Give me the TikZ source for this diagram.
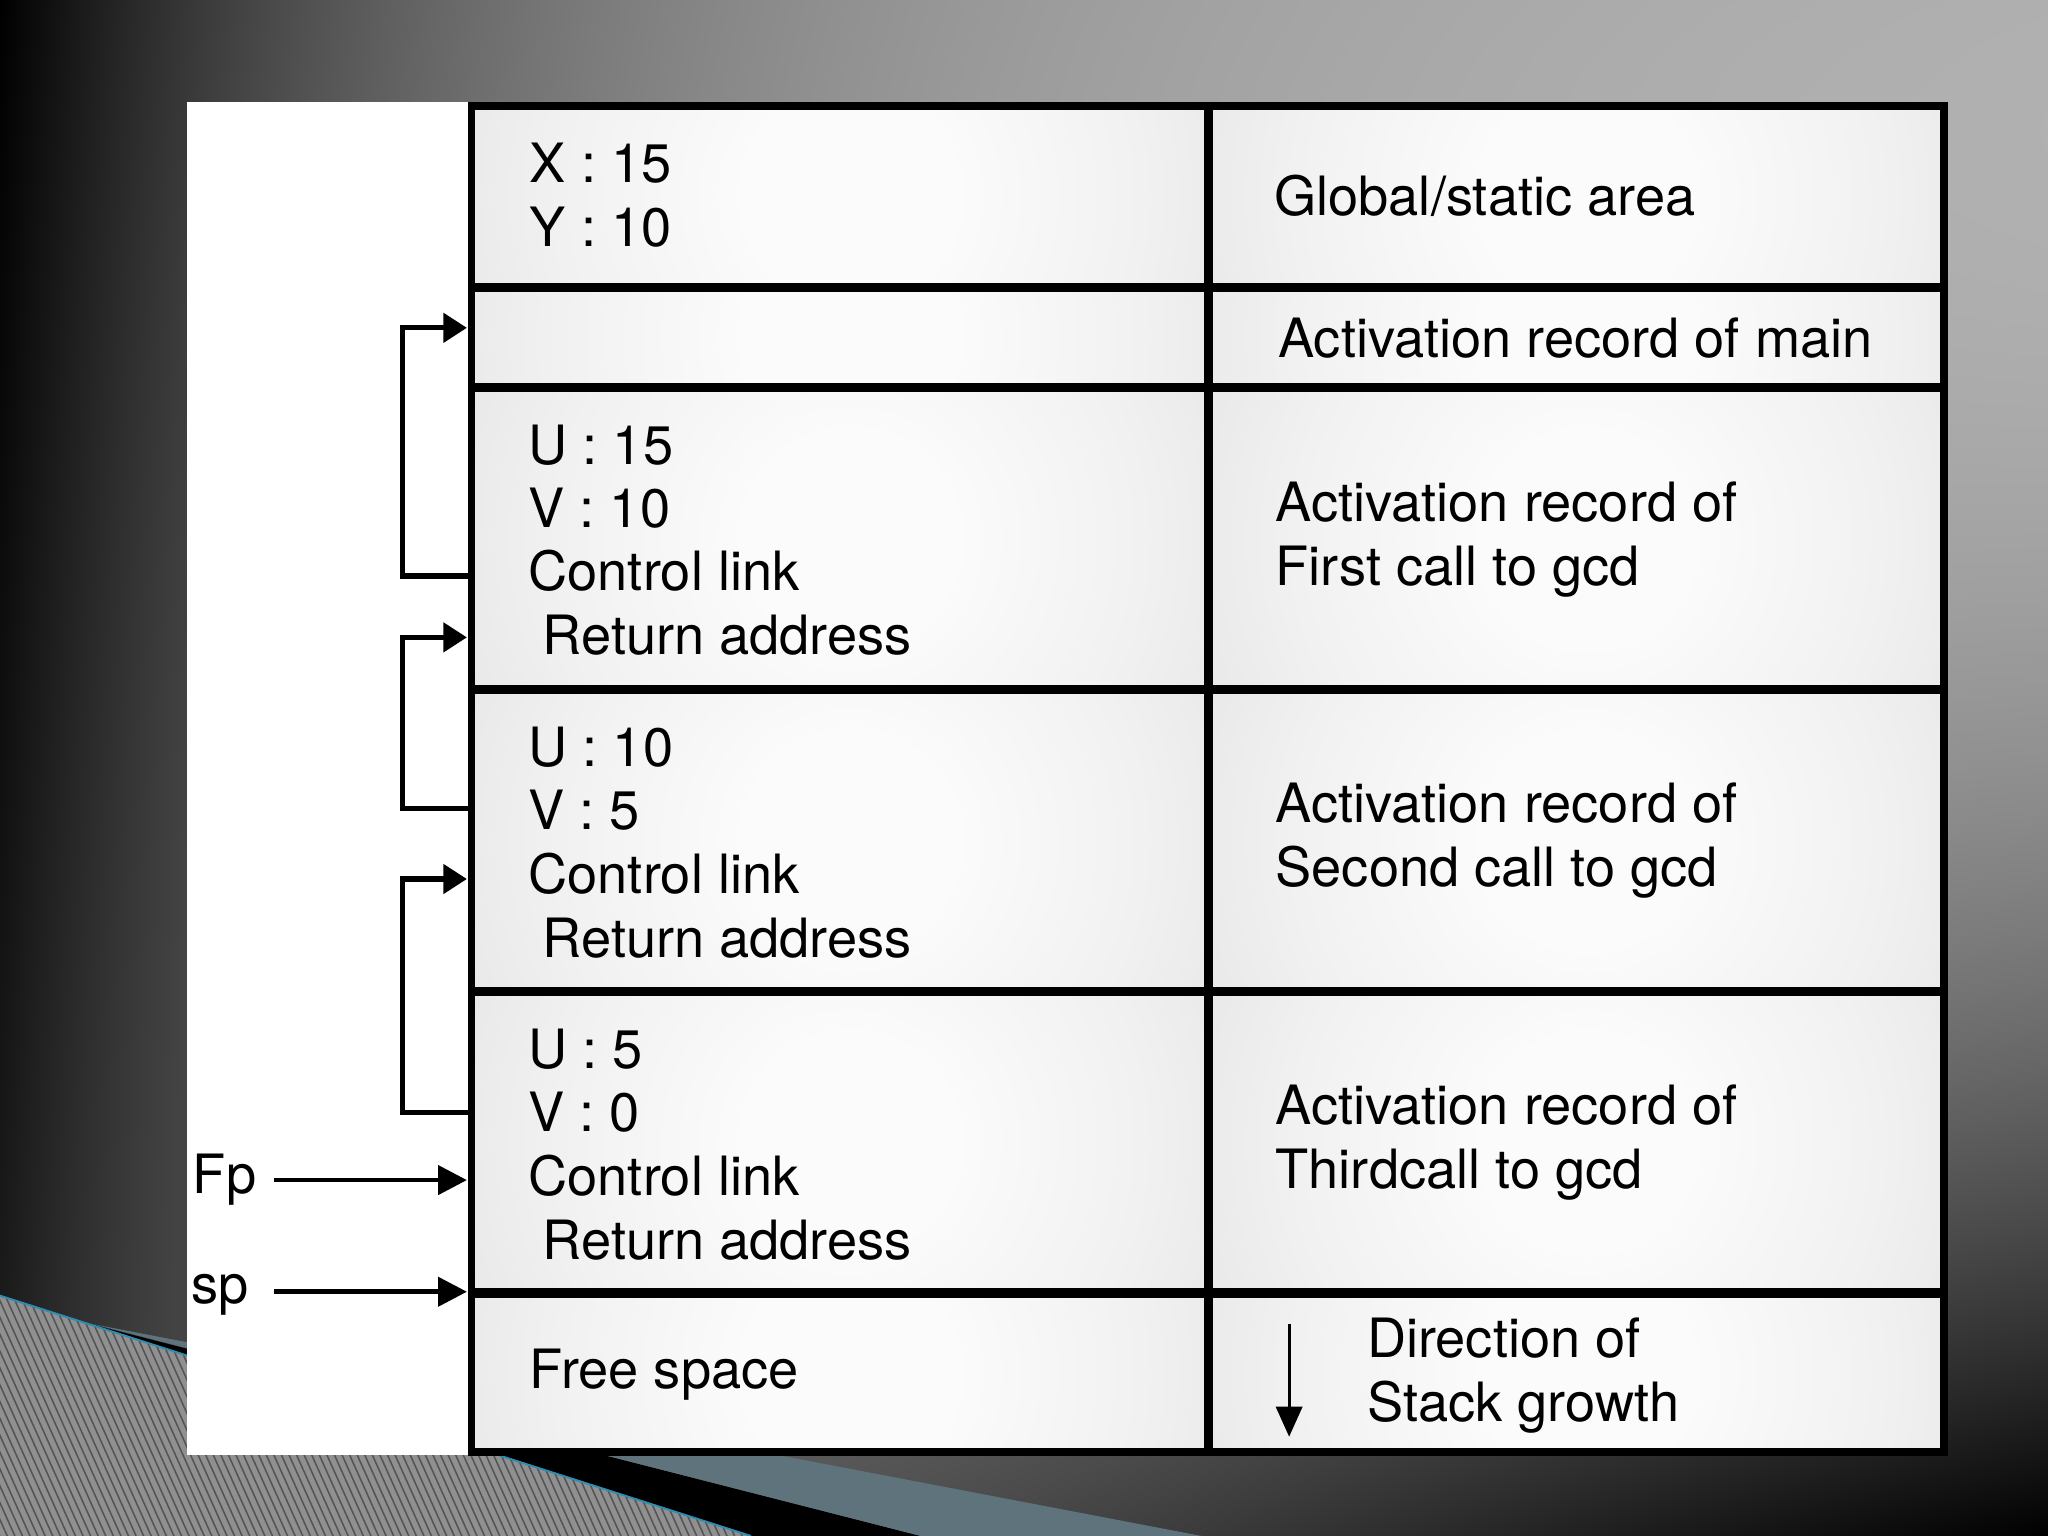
\documentclass[tikz,border=0pt]{standalone}
\usepackage{fontspec}
\setmainfont{TeX Gyre Heros}
\usetikzlibrary{arrows.meta}
\definecolor{cellA}{HTML}{FBFBFB}
\definecolor{cellB}{HTML}{F1F1F1}
\definecolor{cellC}{HTML}{E2E2E2}
\definecolor{cellD}{HTML}{D2D2D2}
\definecolor{cellE}{HTML}{CBCBCB}
\definecolor{hatchbg}{HTML}{909090}
\definecolor{hatchln}{HTML}{555555}
\definecolor{bandblue}{HTML}{5F737D}
\definecolor{edgecyan}{HTML}{2E8CB0}
\pgfdeclareradialshading{cellglow}{\pgfpoint{0bp}{0bp}}{color(0bp)=(cellA); color(5bp)=(cellA); color(14bp)=(cellB); color(24bp)=(cellC); color(35bp)=(cellD); color(41bp)=(cellE); color(50bp)=(cellE)}
\pgfdeclarefunctionalshading{slidebg}{\pgfpoint{-50bp}{-50bp}}{\pgfpoint{50bp}{50bp}}{}{
 25 exch sub 50 div
 dup 0 lt {pop 0} if
 exch 25 add 50 div
 dup 0 lt {pop 0} if
 dup -4 mul 2.71828 exch exp
 1 exch sub 0.7 mul
 2 index 0.12 mul add
 exch 0.67 exp
 2 index dup mul mul
 1 exch sub mul
 exch pop
 dup 0 lt {pop 0} if
 dup 1 gt {pop 1} if
 dup dup
}
\begin{document}
\begin{tikzpicture}[x=0.01cm,y=-0.01cm,
  txt/.style={font=\fontsize{11.8pt}{13.8pt}\selectfont, anchor=base west, inner sep=0pt},
  gridline/.style={line width=0.07cm, black},
  tframe/.style={line width=0.06cm, black},
  ctl/.style={line width=0.04cm, -{Triangle[length=0.18cm,width=0.22cm]}},
  ptr/.style={line width=0.036cm, -{Triangle[length=0.22cm,width=0.22cm]}},
  growarrow/.style={line width=0.025cm, -{Triangle[length=0.23cm,width=0.2cm]}}]
\useasboundingbox (0,0) rectangle (1568,1176);
\shade[shading=slidebg] (0,0) rectangle (1568,1176);
% hatched corner
\begin{scope}
  \clip (0,992) -- (575,1176) -- (0,1176) -- cycle;
  \fill[hatchbg] (0,980) rectangle (600,1180);
  \foreach \i in {0,...,125} \draw[hatchln, line width=0.012cm] ({-100+5.8*\i},980) -- ++(90,200);
\end{scope}
\fill[black] (70,1014) -- (575,1176) -- (705,1176) -- cycle;
\fill[bandblue] (72,1014) -- (705,1176) -- (920,1176) -- cycle;
\draw[edgecyan, line width=0.015cm] (0,992) -- (575,1176);
% white panel
\fill[white] (143,78) rectangle (358,1114);
% cells
\foreach \ya/\yb in {80/220, 220/297, 297/528, 528/759, 759/990, 990/1112} {
  \foreach \xa/\xb in {361/925, 925/1489} {
    \fill[cellE] (\xa,\ya) rectangle (\xb,\yb);
    \begin{scope}
      \clip (\xa,\ya) rectangle (\xb,\yb);
      \shade[shading=cellglow] ({(\xa+\xb)/2+8},{(\ya+\yb)/2}) circle[radius=4cm];
    \end{scope}
  }
}
% grid
\draw[tframe] (361,81) rectangle (1488.5,1111.5);
\draw[gridline] (925,81) -- (925,1111.5);
\foreach \y in {220, 297, 528, 759, 990} \draw[gridline] (361,\y) -- (1488.5,\y);
% left column texts
\node[txt] (x15) at (405,140) {X : 15};
\node[txt] (y10) at (405,189) {Y : 10};
\node[txt] (ua) at (404,356) {U : 15};
\node[txt] (va) at (404,404) {V : 10};
\node[txt] (cla) at (404,452) {Control link};
\node[txt] (raa) at (415,501) {Return address};
\node[txt] (ub) at (404,587) {U : 10};
\node[txt] (vb) at (404,635) {V : 5};
\node[txt] (clb) at (404,684) {Control link};
\node[txt] (rab) at (415,733) {Return address};
\node[txt] (uc) at (404,818) {U : 5};
\node[txt] (vc) at (404,866) {V : 0};
\node[txt] (clc) at (404,915) {Control link};
\node[txt] (rac) at (415,964) {Return address};
\node[txt] (free) at (405,1063) {Free space};
% right column texts
\node[txt] (glob) at (975,165) {Global/static area};
\node[txt] (armain) at (978,274) {Activation record of main};
\node[txt] (ar1a) at (976,399) {Activation record of};
\node[txt] (ar1b) at (976,448) {First call to gcd};
\node[txt] (ar2a) at (976,630) {Activation record of};
\node[txt] (ar2b) at (976,679) {Second call to gcd};
\node[txt] (ar3a) at (976,861) {Activation record of};
\node[txt] (ar3b) at (976,910) {Thirdcall to gcd};
\node[txt] (dira) at (1046,1039) {Direction of};
\node[txt] (dirb) at (1046,1088) {Stack growth};
% pointer labels
\node[txt] (fp) at (147,914) {Fp};
\node[txt] (sp) at (146,998) {sp};
% connectors
\coordinate (bx) at (308,0);
\coordinate (cls3) at (358,441);
\coordinate (tip2) at (357.5,251);
\coordinate (cls4) at (358,619);
\coordinate (tip3) at (357.5,488);
\coordinate (cls5) at (358,852);
\coordinate (tip4) at (357.5,673);
\draw[ctl] (cls3) -- (cls3 -| bx) |- (tip2);
\draw[ctl] (cls4) -- (cls4 -| bx) |- (tip3);
\draw[ctl] (cls5) -- (cls5 -| bx) |- (tip4);
\coordinate (fpa) at (210,903.5);
\coordinate (fpb) at (357.5,903.5);
\coordinate (spa) at (210,989);
\coordinate (spb) at (357.5,989);
\draw[ptr] (fpa) -- (fpb);
\draw[ptr] (spa) -- (spb);
\coordinate (dg1) at (987,1014);
\coordinate (dg2) at (987,1100);
\draw[growarrow] (dg1) -- (dg2);
\end{tikzpicture}
\end{document}
